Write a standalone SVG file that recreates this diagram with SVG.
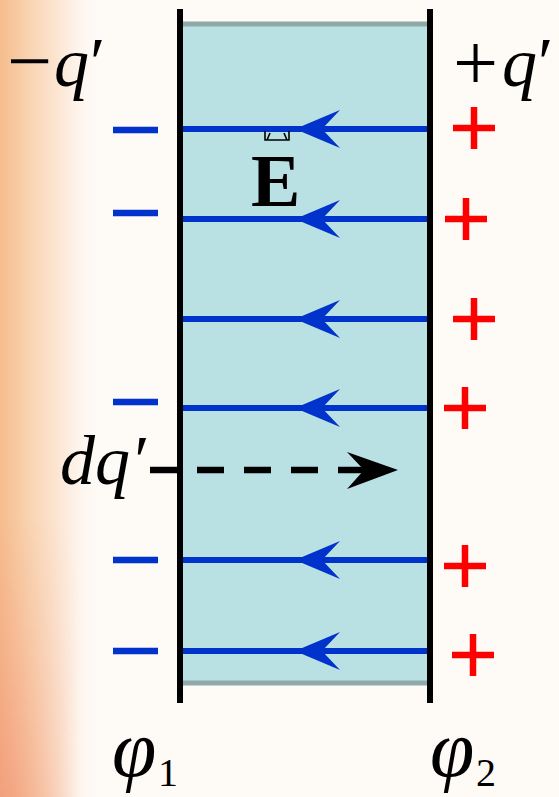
<svg xmlns="http://www.w3.org/2000/svg" width="559" height="797" viewBox="0 0 559 797">
<defs>
<linearGradient id="bgL" x1="0" y1="0" x2="1" y2="0">
<stop offset="0" stop-color="#f6bc8c"/>
<stop offset="0.3" stop-color="#f9d4b2"/>
<stop offset="0.7" stop-color="#fdeee2"/>
<stop offset="1" stop-color="#fefaf6" stop-opacity="0"/>
</linearGradient>
<linearGradient id="fadeH" x1="0" y1="0" x2="1" y2="0">
<stop offset="0" stop-color="#fff"/>
<stop offset="0.5" stop-color="#fff" stop-opacity="0.5"/>
<stop offset="1" stop-color="#fff" stop-opacity="0"/>
</linearGradient>
<linearGradient id="bgV" x1="0" y1="0" x2="0" y2="1">
<stop offset="0" stop-color="#f4a080" stop-opacity="0"/>
<stop offset="0.65" stop-color="#f4a080" stop-opacity="0"/>
<stop offset="1" stop-color="#f29a7a" stop-opacity="0.85"/>
</linearGradient>
<mask id="mH"><rect x="0" y="0" width="80" height="797" fill="url(#fadeH)"/></mask>
<style>
.plate{stroke:#000;stroke-width:6;fill:none}
.field{stroke:#0033cc;stroke-width:6;fill:none}
.head{fill:#0033cc}
.minus{stroke:#0033cc;stroke-width:6.5}
.plus{stroke:#ff0000;stroke-width:6.5}
.t{font-family:"Liberation Serif","Times New Roman",serif;fill:#000}
.i{font-style:italic}
</style>
</defs>
<rect width="559" height="797" fill="#fefaf6"/>
<rect x="0" y="0" width="100" height="797" fill="url(#bgL)"/>
<rect x="0" y="0" width="80" height="797" fill="url(#bgV)" mask="url(#mH)"/>

<g id="dielectric">
<rect x="183" y="22" width="245" height="663" fill="#b9e0e2"/>
<line x1="183" y1="24" x2="428" y2="24" stroke="#8fa8a8" stroke-width="5"/>
<line x1="183" y1="683" x2="428" y2="683" stroke="#8fa8a8" stroke-width="5"/>
</g>

<g id="field-lines">
<g id="E1"><line class="field" x1="183" y1="129" x2="428" y2="129"/><path class="head" d="M295,129 L340,110 L322,129 L340,148 Z"/></g>
<g id="E2"><line class="field" x1="183" y1="219" x2="428" y2="219"/><path class="head" d="M295,219 L340,200 L322,219 L340,238 Z"/></g>
<g id="E3"><line class="field" x1="183" y1="319" x2="428" y2="319"/><path class="head" d="M295,319 L340,300 L322,319 L340,338 Z"/></g>
<g id="E4"><line class="field" x1="183" y1="408" x2="428" y2="408"/><path class="head" d="M295,408 L340,389 L322,408 L340,427 Z"/></g>
<g id="E5"><line class="field" x1="183" y1="560" x2="428" y2="560"/><path class="head" d="M295,560 L340,541 L322,560 L340,579 Z"/></g>
<g id="E6"><line class="field" x1="183" y1="651" x2="428" y2="651"/><path class="head" d="M295,651 L340,632 L322,651 L340,670 Z"/></g>
</g>

<g id="plate-left"><line class="plate" x1="180" y1="9" x2="180" y2="703"/></g>
<g id="plate-right"><line class="plate" x1="430" y1="9" x2="430" y2="703"/></g>

<g id="minus-charges">
<line class="minus" x1="113" y1="130" x2="158" y2="130"/>
<line class="minus" x1="113" y1="213" x2="158" y2="213"/>
<line class="minus" x1="113" y1="402" x2="158" y2="402"/>
<line class="minus" x1="113" y1="560" x2="158" y2="560"/>
<line class="minus" x1="113" y1="651" x2="158" y2="651"/>
</g>

<g id="plus-charges">
<path class="plus" d="M453,128 H495 M474,107 V149"/>
<path class="plus" d="M445,219 H487 M466,198 V240"/>
<path class="plus" d="M453,319 H495 M474,298 V340"/>
<path class="plus" d="M444,408 H486 M465,387 V429"/>
<path class="plus" d="M444,566 H486 M465,545 V587"/>
<path class="plus" d="M452,655 H494 M473,634 V676"/>
</g>

<g id="label-minus-q">
<text class="t" font-size="70"><tspan x="7" y="88" font-size="80">−</tspan><tspan class="i" x="54" y="86">q</tspan><tspan x="90" y="86">′</tspan></text>
</g>
<g id="label-plus-q">
<text class="t" font-size="70"><tspan x="453" y="90" font-size="80">+</tspan><tspan class="i" x="502" y="86">q</tspan><tspan x="538" y="86">′</tspan></text>
</g>

<g id="label-E">
<path d="M265,131 V140 H289 V131 M267,140 L270,133 M287,140 L284,133" stroke="#000" stroke-width="1.6" fill="none"/>
<text class="t" x="251" y="206" font-size="74" font-weight="bold">E</text>
</g>

<g id="dq">
<text class="t i" x="60" y="484" font-size="70">dq′</text>
<line x1="150" y1="470" x2="368" y2="470" stroke="#000" stroke-width="6.5" stroke-dasharray="27 20"/>
<path d="M398,470 L347,452 L364,470 L347,489 Z" fill="#000"/>
</g>

<g id="label-phi1">
<text class="t" font-size="80"><tspan class="i" x="112" y="776">φ</tspan><tspan font-size="40" x="158" y="786">1</tspan></text>
</g>
<g id="label-phi2">
<text class="t" font-size="80"><tspan class="i" x="430" y="776">φ</tspan><tspan font-size="40" x="476" y="786">2</tspan></text>
</g>
</svg>
